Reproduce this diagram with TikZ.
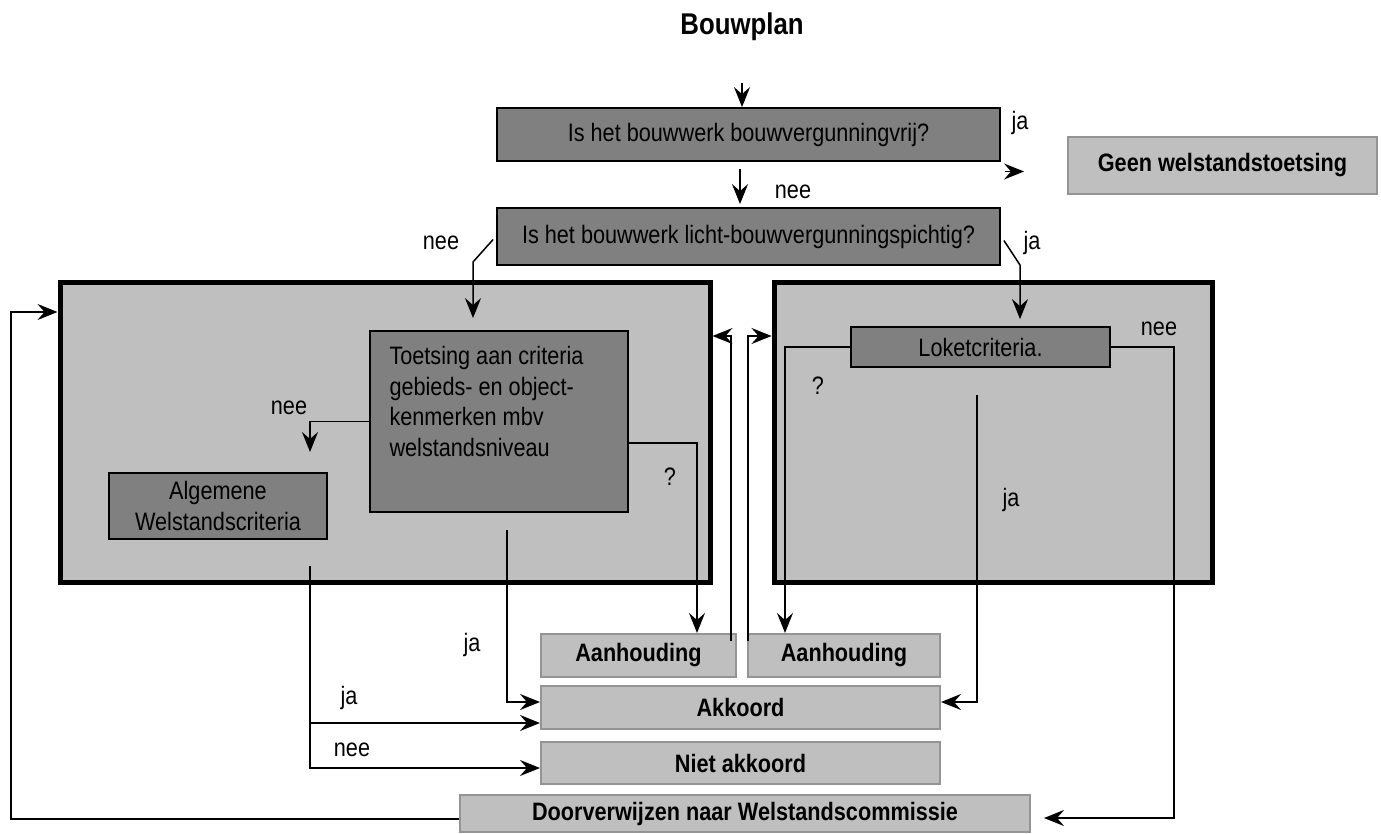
\documentclass[tikz,border=0pt]{standalone}
\usepackage{fontspec}
\setmainfont{Liberation Sans}[FakeStretch=0.86]
\usetikzlibrary{arrows.meta}
\definecolor{donkergrijs}{gray}{0.5}
\definecolor{lichtgrijs}{gray}{0.75}
\definecolor{randgrijs}{gray}{0.58}

\begin{document}
\begin{tikzpicture}[
      x=0.5pt, y=-0.5pt,
      font=\fontsize{12.6}{15.3}\selectfont,
      vraag/.style={draw=black,line width=0.9pt,fill=donkergrijs,inner sep=0pt,align=center},
      uitkomst/.style={draw=randgrijs,line width=1pt,fill=lichtgrijs,inner sep=0pt,font=\fontsize{12.6}{15.3}\selectfont\bfseries},
      kader/.style={draw=black,line width=2.5pt,fill=lichtgrijs,inner sep=0pt},
      lijn/.style={line width=0.75pt},
      pijl/.style={line width=0.75pt,-{Stealth[length=10pt,width=8pt,inset=3.5pt]}},
      tekst/.style={inner sep=0pt}
    ]
    \useasboundingbox (0,0) rectangle (1381,834);
    % Draw the title and the two questions.
    \node[tekst,font=\fontsize{15}{17}\selectfont\bfseries] (bouwplan) at (742,27) {Bouwplan};
    \node[vraag,minimum width=251.5pt,minimum height=26.5pt] (vrij) at (748.5,134.5) {Is het bouwwerk bouwvergunningvrij?};
    \node[vraag,minimum width=251.5pt,minimum height=28.5pt] (licht) at (748.5,236.5) {Is het bouwwerk licht-bouwvergunningspichtig?};
    \node[uitkomst,minimum width=154.5pt,minimum height=28.5pt] (geen) at (1222.5,165.5) {Geen welstandstoetsing};
    % Draw the two frames.
    \node[kader,minimum width=325pt,minimum height=149.5pt] (linkerkader) at (385,432.5) {};
    \node[kader,minimum width=219pt,minimum height=149.5pt] (rechterkader) at (993,432.5) {};
    % Draw the criteria inside the frames.
    \node[vraag,minimum width=129pt,minimum height=90.5pt] (toetsing) at (499,421.5) {};
    \node[tekst,anchor=north west,align=left] (toetsingtekst) at ([xshift=10pt,yshift=-8pt]toetsing.north west)
      {Toetsing aan criteria\\gebieds- en object-\\kenmerken mbv\\welstandsniveau};
    \node[vraag,minimum width=109pt,minimum height=33pt] (algemeen) at (218,506) {Algemene\\Welstandscriteria};
    \node[vraag,minimum width=129.5pt,minimum height=20pt] (loket) at (980.5,347) {Loketcriteria.};
    % Draw the outcomes.
    \node[uitkomst,minimum width=97.5pt,minimum height=21.5pt] (aanh1) at (638.5,655.5) {Aanhouding};
    \node[uitkomst,minimum width=96pt,minimum height=21.5pt] (aanh2) at (844,655.5) {Aanhouding};
    \node[uitkomst,minimum width=199.5pt,minimum height=21.5pt] (akkoord) at (740.5,707.5) {Akkoord};
    \node[uitkomst,minimum width=199.5pt,minimum height=21pt] (niet) at (740.5,763) {Niet akkoord};
    \node[uitkomst,minimum width=285pt,minimum height=18.5pt] (door) at (745,813.5) {Doorverwijzen naar Welstandscommissie};
    % Draw the answers.
    \node[tekst] (ja1) at (1020,123) {ja};
    \node[tekst] (nee1) at (793,192) {nee};
    \node[tekst] (nee2) at (441,243) {nee};
    \node[tekst] (ja2) at (1032,243) {ja};
    \node[tekst] (nee3) at (289,408) {nee};
    \node[tekst] (vraag1) at (670,477) {?};
    \node[tekst] (ja3) at (472,645) {ja};
    \node[tekst] (ja4) at (349,698) {ja};
    \node[tekst] (nee4) at (352,750) {nee};
    \node[tekst] (vraag2) at (818,386) {?};
    \node[tekst] (ja5) at (1011,500) {ja};
    \node[tekst] (nee5) at (1159,329) {nee};
    % Bends of the connectors.
    \coordinate (knik1) at (473,262);
    \coordinate (knik2) at (1020,265);
    \coordinate (pijlnee) at (310,452);
    \coordinate (rechtsom) at (1174,347);
    \coordinate (terug) at (11,312);
    % Draw the transitions.
    \draw[pijl,shorten <=21pt] (bouwplan.south) -- (bouwplan.south |- vrij.north);
    \draw[pijl,shorten <=3.5pt,shorten >=1.5pt] ([xshift=-4.25pt]vrij.south) -- ([xshift=-4.25pt]licht.north);
    \draw[pijl,shorten <=2pt,shorten >=21.5pt] ([yshift=-3pt]vrij.east |- geen.west) -- ([yshift=-3pt]geen.west);
    \draw[pijl,shorten >=6pt] ([xshift=-1.5pt,yshift=-1.5pt]licht.west) -- (knik1) -- (knik1 |- toetsing.north);
    \draw[pijl,shorten >=3.5pt] ([xshift=1.5pt,yshift=-2pt]licht.east) -- (knik2) -- (knik2 |- loket.north);
    \draw[pijl] (toetsing.west) -| (pijlnee);
    \draw[pijl] ([yshift=-10.75pt]toetsing.east) -| ([xshift=29.25pt]aanh1.north);
    \draw[pijl,shorten <=8.5pt] ([xshift=4pt]toetsing.south) |- ([yshift=2.75pt]akkoord.west);
    \draw[pijl,shorten <=13pt] ([xshift=46pt]algemeen.south) |- ([yshift=-7.75pt]akkoord.west);
    \draw[pijl,shorten <=13pt] ([xshift=46pt]algemeen.south) |- ([yshift=-2.5pt]niet.west);
    \draw[pijl] ([xshift=-3pt,yshift=-4pt]aanh1.north east) |- ([yshift=48.25pt]linkerkader.east);
    \draw[pijl] ([xshift=0.5pt,yshift=-4pt]aanh2.north west) |- ([yshift=48.25pt]rechterkader.west);
    \draw[pijl] (loket.west) -| ([xshift=-29.5pt]aanh2.north);
    \draw[pijl,shorten <=13.5pt] ([xshift=-1.75pt]loket.south) |- ([yshift=2.75pt]akkoord.east);
    \draw[pijl,shorten >=6.5pt] (loket.east) -- (rechtsom) |- ([yshift=-2.25pt]door.east);
    \draw[pijl] ([yshift=-2.75pt]door.west) -| (terug) -- (linkerkader.west |- terug);
\end{tikzpicture}
\end{document}
